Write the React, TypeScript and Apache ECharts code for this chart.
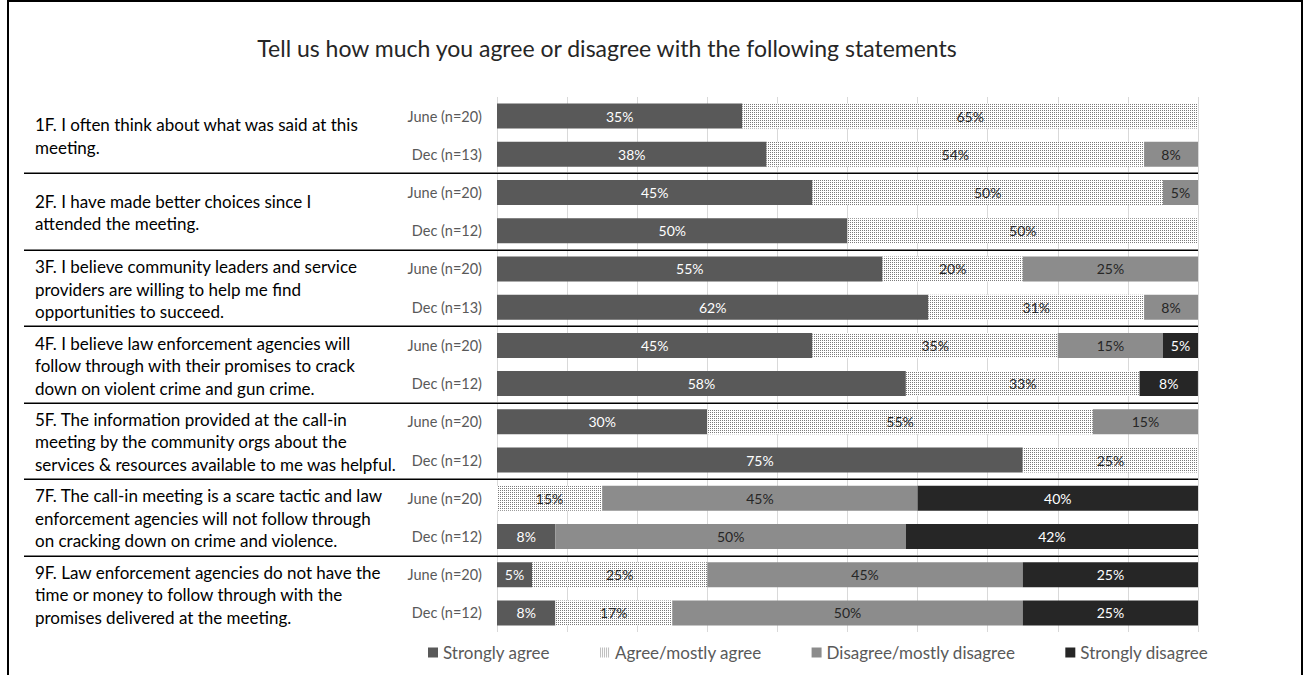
import React, { useEffect, useRef } from 'react';
import * as echarts from 'echarts';

const titleText = 'Tell us how much you agree or disagree with the following statements';

const questions = [
  '1F. I often think about what was said at this\nmeeting.',
  '2F. I have made better choices since I\nattended the meeting.',
  '3F. I believe community leaders and service\nproviders are willing to help me find\nopportunities to succeed.',
  '4F. I believe law enforcement agencies will\nfollow through with their promises to crack\ndown on violent crime and gun crime.',
  '5F. The information provided at the call-in\nmeeting by the community orgs about the\nservices & resources available to me was helpful.',
  '7F. The call-in meeting is a scare tactic and law\nenforcement agencies will not follow through\non cracking down on crime and violence.',
  '9F. Law enforcement agencies do not have the\ntime or money to follow through with the\npromises delivered at the meeting.',
];

const rowLabels = [
  'June (n=20)', 'Dec (n=13)',
  'June (n=20)', 'Dec (n=12)',
  'June (n=20)', 'Dec (n=13)',
  'June (n=20)', 'Dec (n=12)',
  'June (n=20)', 'Dec (n=12)',
  'June (n=20)', 'Dec (n=12)',
  'June (n=20)', 'Dec (n=12)',
];

const seriesNames = ['Strongly agree', 'Agree/mostly agree', 'Disagree/mostly disagree', 'Strongly disagree'];

const stronglyAgree = [35, 38.46, 45, 50, 55, 61.54, 45, 58.33, 30, 75, 0, 8.33, 5, 8.33];
const agreeMostly = [65, 53.85, 50, 50, 20, 30.77, 35, 33.33, 55, 25, 15, 0, 25, 16.67];
const disagreeMostly = [0, 7.69, 5, 0, 25, 7.69, 15, 0, 15, 0, 45, 50, 45, 50];
const stronglyDisagree = [0, 0, 0, 0, 0, 0, 5, 8.33, 0, 0, 40, 41.67, 25, 25];

const FONT = 'Lato, Carlito, Calibri, sans-serif';

function makeDots(): string {
  const c = document.createElement('canvas');
  c.width = 2;
  c.height = 2;
  const ctx = c.getContext('2d')!;
  ctx.fillStyle = '#ffffff';
  ctx.fillRect(0, 0, 2, 2);
  ctx.fillStyle = '#7a7a7a';
  ctx.fillRect(0, 0, 1, 1);
  return c.toDataURL();
}

export default function App() {
  const ref = useRef<HTMLDivElement>(null);

  useEffect(() => {
    const chart = echarts.init(ref.current!, undefined, { renderer: 'svg' });
    const dots: any = { image: makeDots(), repeat: 'repeat', imageWidth: 2, imageHeight: 2 };
    const keys = rowLabels.map((_, i) => 'r' + i);

    const mk = (name: string, data: number[], color: any, labelColor: string) => ({
      name,
      type: 'bar',
      stack: 'total',
      data,
      barWidth: 25,
      itemStyle: { color },
      emphasis: { disabled: true },
      label: {
        show: true,
        position: 'inside',
        color: labelColor,
        fontFamily: FONT,
        fontSize: 14,
        formatter: (p: any) => (p.value > 0 ? Math.round(p.value) + '%' : ''),
      },
    });

    chart.setOption({
      animation: false,
      backgroundColor: '#ffffff',
      grid: { left: 497, right: 106, top: 97, bottom: 43 },
      xAxis: {
        type: 'value',
        min: 0,
        max: 100,
        interval: 10,
        axisLabel: { show: false },
        axisLine: { show: false },
        axisTick: { show: false },
        splitLine: { show: true, lineStyle: { color: '#d9d9d9', width: 1 } },
      },
      yAxis: {
        type: 'category',
        inverse: true,
        data: keys,
        axisLine: { show: false },
        axisTick: { show: false },
        axisLabel: {
          formatter: (v: string) => rowLabels[keys.indexOf(v)],
          color: '#595959',
          fontSize: 14.5,
          fontFamily: FONT,
          margin: 15,
        },
      },
      legend: {
        left: 423,
        top: 639,
        itemWidth: 10,
        itemHeight: 10,
        itemGap: 50,
        icon: 'rect',
        data: seriesNames,
        textStyle: { color: '#595959', fontSize: 17, fontFamily: FONT },
      },
      series: [
        mk(seriesNames[0], stronglyAgree, '#595959', '#ffffff'),
        mk(seriesNames[1], agreeMostly, dots, '#262626'),
        mk(seriesNames[2], disagreeMostly, '#8c8c8c', '#262626'),
        mk(seriesNames[3], stronglyDisagree, '#262626', '#ffffff'),
      ],
    });

    const ys = keys.map((_, i) => chart.convertToPixel({ yAxisIndex: 0 }, i) as number);
    const xRight = chart.convertToPixel({ xAxisIndex: 0 }, 100) as number;
    const graphics: any[] = [
      {
        type: 'rect',
        shape: { x: 8, y: 1, width: 1294, height: 720 },
        style: { fill: 'none', stroke: '#000000', lineWidth: 2 },
        silent: true,
      },
      {
        type: 'text',
        x: 607,
        y: 48,
        style: {
          text: titleText,
          fontFamily: FONT,
          fontSize: 23,
          fill: '#262626',
          textAlign: 'center',
          textVerticalAlign: 'middle',
        },
      },
    ];
    questions.forEach((q, g) => {
      const cy = (ys[2 * g] + ys[2 * g + 1]) / 2;
      graphics.push({
        type: 'text',
        x: 35,
        y: cy + 1,
        style: {
          text: q,
          fontFamily: FONT,
          fontSize: 17,
          lineHeight: 22.5,
          fill: '#000000',
          textAlign: 'left',
          textVerticalAlign: 'middle',
        },
      });
      if (g < questions.length - 1) {
        const sy = Math.round((ys[2 * g + 1] + ys[2 * g + 2]) / 2);
        graphics.push({
          type: 'line',
          shape: { x1: 24, y1: sy - 0.5, x2: xRight, y2: sy - 0.5 },
          style: { stroke: '#7f7f7f', lineWidth: 1 },
          silent: true,
        });
        graphics.push({
          type: 'line',
          shape: { x1: 24, y1: sy + 0.5, x2: xRight, y2: sy + 0.5 },
          style: { stroke: '#000000', lineWidth: 1 },
          silent: true,
        });
      }
    });
    chart.setOption({ graphic: graphics });

    return () => chart.dispose();
  }, []);

  return (
    <div
      ref={ref}
      style={{ position: 'fixed', left: 0, top: 0, width: 1304, height: 675, background: '#ffffff' }}
    />
  );
}
